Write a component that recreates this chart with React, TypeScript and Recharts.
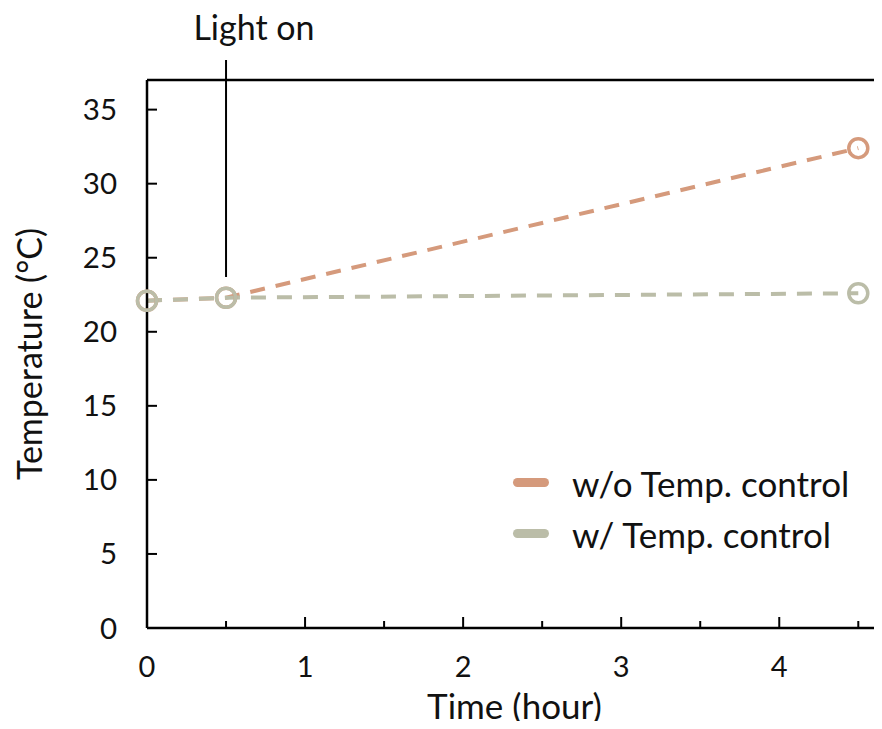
import {
    LineChart,
    Line,
    XAxis,
    YAxis,
    Legend,
    ReferenceLine,
} from "recharts";

// time points (hour) and temperatures (°C)
const hours = [0, 0.5, 4.5];
const withoutControl = [22.1, 22.3, 32.4];
const withControl = [22.1, 22.3, 22.6];

const seriesNames = ["w/o Temp. control", "w/ Temp. control"];
const seriesColors = ["#D59A7C", "#BBBDA8"];

const xTicks = [0, 0.5, 1, 1.5, 2, 2.5, 3, 3.5, 4, 4.5];
const yTicks = [0, 5, 10, 15, 20, 25, 30, 35];

const lightOnHour = 0.5;
const lightOnLabel = "Light on";

const data = hours.map((h, i) => ({
    hour: h,
    without: withoutControl[i],
    with: withControl[i],
}));

const FONT = "Lato, 'Open Sans', sans-serif";
const TEXT = "#111";

// x ticks: long mark on whole hours (with label), short mark on half hours
const XTick = (props: any) => {
    const { x, y, payload } = props;
    const major = Number.isInteger(payload.value);
    return (
        <g>
            <line x1={x} x2={x} y1={y} y2={y - (major ? 11 : 7)} stroke="#000" strokeWidth={2} />
            {major && (
                <text x={x} y={y + 49} textAnchor="middle" fontSize={29} fill={TEXT}>
                    {payload.value}
                </text>
            )}
        </g>
    );
};

const YTick = (props: any) => {
    const { x, y, payload } = props;
    return (
        <g>
            <line x1={x} x2={x + 10} y1={y} y2={y} stroke="#000" strokeWidth={2} />
            <text x={x - 30} y={y + 10.5} textAnchor="end" fontSize={29.5} fill={TEXT}>
                {payload.value}
            </text>
        </g>
    );
};

const LegendBox = () => (
    <div style={{ fontFamily: FONT }}>
        {seriesNames.map((name, i) => (
            <div key={name} style={{ display: "flex", alignItems: "center", height: 51 }}>
                <div
                    style={{
                        width: 36,
                        height: 9,
                        borderRadius: 5,
                        background: seriesColors[i],
                        marginRight: 23,
                    }}
                />
                <span style={{ fontSize: 35, color: TEXT }}>{name}</span>
            </div>
        ))}
    </div>
);

export default function App() {
    return (
        <div style={{ position: "relative", margin: -8, width: 882, height: 729, fontFamily: FONT, overflow: "hidden" }}>
            <LineChart
                width={882}
                height={729}
                data={data}
                margin={{ top: 80, right: 0, left: 0, bottom: 0 }}
            >
                <XAxis
                    type="number"
                    dataKey="hour"
                    domain={[0, 4.65]}
                    ticks={xTicks}
                    tick={<XTick />}
                    tickLine={false}
                    tickSize={0}
                    tickMargin={0}
                    height={101}
                    interval={0}
                    axisLine={{ stroke: "#000", strokeWidth: 2.5 }}
                    label={{ value: "Time (hour)", position: "insideBottom", offset: 10, fontSize: 35, fill: TEXT }}
                />
                <YAxis
                    type="number"
                    domain={[0, 37]}
                    ticks={yTicks}
                    tick={<YTick />}
                    tickLine={false}
                    tickSize={0}
                    tickMargin={0}
                    width={147}
                    interval={0}
                    axisLine={{ stroke: "#000", strokeWidth: 2.5 }}
                    label={{ value: "Temperature (°C)", angle: -90, position: "insideLeft", offset: 30, fontSize: 34, fill: TEXT, style: { textAnchor: "middle" } }}
                />
                {/* top border of the plot box */}
                <ReferenceLine y={37} stroke="#000" strokeWidth={2.5} />
                <ReferenceLine
                    segment={[
                        { x: lightOnHour, y: 23.7 },
                        { x: lightOnHour, y: 38.35 },
                    ]}
                    ifOverflow="visible"
                    stroke="#000"
                    strokeWidth={2}
                />
                <Legend
                    layout="vertical"
                    verticalAlign="middle"
                    align="center"
                    wrapperStyle={{ left: 513, top: 457, width: 369 }}
                    content={<LegendBox />}
                />
                <Line
                    dataKey="without"
                    name={seriesNames[0]}
                    stroke={seriesColors[0]}
                    strokeWidth={4}
                    strokeDasharray="15 11"
                    dot={{ r: 9.5, fill: "none", stroke: seriesColors[0], strokeWidth: 3.5, strokeDasharray: "0" }}
                    isAnimationActive={false}
                />
                <Line
                    dataKey="with"
                    name={seriesNames[1]}
                    stroke={seriesColors[1]}
                    strokeWidth={4}
                    strokeDasharray="15 11"
                    dot={{ r: 9.5, fill: "none", stroke: seriesColors[1], strokeWidth: 3.5, strokeDasharray: "0" }}
                    isAnimationActive={false}
                />
            </LineChart>
            <div
                style={{
                    position: "absolute",
                    left: 185,
                    top: 6,
                    width: 138,
                    textAlign: "center",
                    fontSize: 34,
                    color: TEXT,
                }}
            >
                {lightOnLabel}
            </div>
        </div>
    );
}
